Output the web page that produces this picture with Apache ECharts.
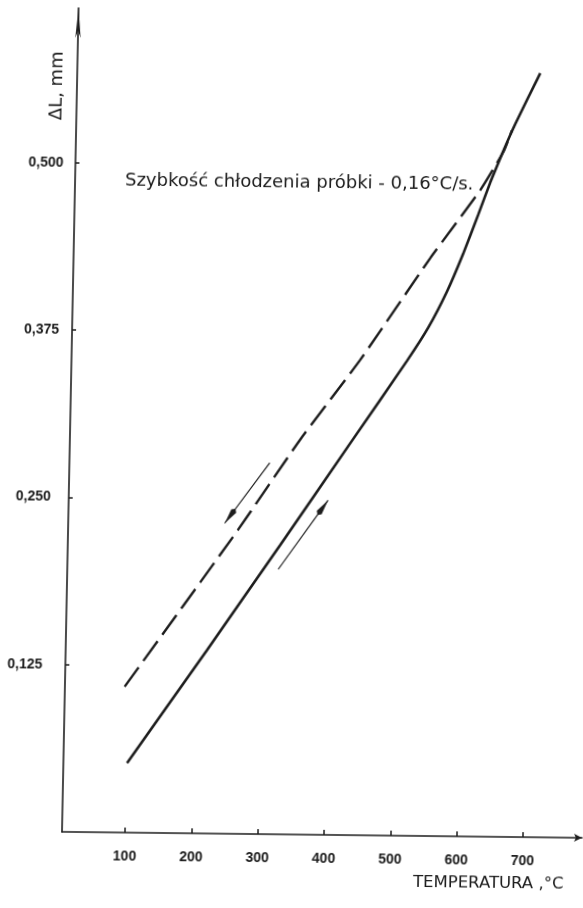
<!DOCTYPE html>
<html>
<head>
<meta charset="utf-8">
<script src="https://cdn.jsdelivr.net/npm/echarts/dist/echarts.min.js"></script>
<style>
  html, body { margin: 0; padding: 0; background: #ffffff; overflow: hidden; }
  /* the plotting frame sits a little askew on the sheet */
  #chart {
    width: 583px; height: 908px;
    transform: matrix(1, 0.0115, -0.0201, 1, 0, 0);
    transform-origin: 62px 832px;
  }
</style>
</head>
<body>
<div id="chart"></div>
<script>
// Dilatometric curve: specimen elongation vs temperature
const heatingTemp = [101, 218, 325, 428, 511, 542, 569, 592, 614, 631, 650, 667, 703];
const heatingDL   = [0.052, 0.137, 0.216, 0.293, 0.355, 0.380, 0.407, 0.435, 0.465, 0.489, 0.513, 0.533, 0.571];

const coolingTemp = [95, 261, 352, 440, 543, 616, 650, 662];
const coolingDL   = [0.109, 0.227, 0.295, 0.355, 0.432, 0.483, 0.512, 0.528];

// direction arrows: [startTemp, startDL, tipTemp, tipDL]
const coolingArrow = [307, 0.2775, 241, 0.232];
const heatingArrow = [323, 0.198, 396, 0.250];

const xTicks = [100, 200, 300, 400, 500, 600, 700];
const yTicks = [0.125, 0.250, 0.375, 0.500];

const ink = '#1d1d1d';
const pair = (xs, ys) => xs.map((x, i) => [x, ys[i]]);

const chart = echarts.init(document.getElementById('chart'), null, { renderer: 'canvas' });

function renderArrow(params, api) {
  const p1 = api.coord([api.value(0), api.value(1)]);
  const p2 = api.coord([api.value(2), api.value(3)]);
  const dx = p2[0] - p1[0], dy = p2[1] - p1[1];
  const len = Math.sqrt(dx * dx + dy * dy);
  const ux = dx / len, uy = dy / len;
  const headLen = 15, half = 3;
  const bx = p2[0] - ux * headLen, by = p2[1] - uy * headLen;
  return {
    type: 'group',
    children: [
      { type: 'line', shape: { x1: p1[0], y1: p1[1], x2: p2[0], y2: p2[1] },
        style: { stroke: ink, lineWidth: 1.2 } },
      { type: 'polygon',
        shape: { points: [
          [p2[0], p2[1]],
          [bx - uy * half, by + ux * half],
          [bx - ux * 3, by - uy * 3],
          [bx + uy * half, by - ux * half]
        ] },
        style: { fill: ink } }
    ]
  };
}

// hand-lettered values drift leftwards further down the scale
const labelGap = { '0,500': 0, '0,375': 1, '0,250': 6, '0,125': 11 };
const labelFont = { fontFamily: 'Liberation Sans', fontWeight: 'bold', fontSize: 14, color: '#1a1a1a' };
const yRich = { v: labelFont };
Object.keys(labelGap).forEach((k, i) => {
  yRich['g' + i] = { width: labelGap[k], fontSize: 14 };
});

chart.setOption({
  backgroundColor: '#ffffff',
  animation: false,
  grid: { left: 62, right: 1, top: 8, bottom: 76, containLabel: false, outerBoundsMode: 'none' },
  xAxis: {
    type: 'value', min: 5, max: 789,
    axisLine: { show: true, lineStyle: { color: ink, width: 1.6 },
                symbol: ['none', 'arrow'], symbolSize: [6, 8] },
    axisTick: { show: true, inside: true, length: 5, customValues: xTicks,
                lineStyle: { color: ink, width: 1.5 } },
    axisLabel: Object.assign({ customValues: xTicks, margin: 17 }, labelFont),
    splitLine: { show: false }
  },
  yAxis: {
    type: 'value', min: 0, max: 0.6157,
    axisLine: { show: true, lineStyle: { color: ink, width: 1.6 },
                symbol: ['none', 'arrow'], symbolSize: [4, 30] },
    axisTick: { show: true, inside: true, length: 4, customValues: yTicks,
                lineStyle: { color: ink, width: 1.5 } },
    axisLabel: { customValues: yTicks, margin: 12,
                 formatter: v => {
                   const s = v.toFixed(3).replace('.', ',');
                   const idx = Object.keys(labelGap).indexOf(s);
                   return labelGap[s] > 0 ? '{v|' + s + '}{g' + idx + '| }' : '{v|' + s + '}';
                 },
                 rich: yRich },
    splitLine: { show: false }
  },
  graphic: [
    { type: 'text', left: 112, top: 171,
      style: { text: 'Szybkość chłodzenia próbki - 0,16°C/s.', fill: '#1a1a1a',
               font: '18px "DejaVu Sans"' } },
    { type: 'text', left: 414, top: 870,
      style: { text: 'TEMPERATURA ,°C', fill: '#1a1a1a', font: '16.5px "DejaVu Sans"' } },
    { type: 'text', x: 42, y: 86, rotation: Math.PI / 2,
      style: { text: 'ΔL, mm', fill: '#1a1a1a', font: '18px "DejaVu Sans"',
               align: 'center', verticalAlign: 'middle' } }
  ],
  series: [
    { name: 'nagrzewanie', type: 'line', data: pair(heatingTemp, heatingDL),
      showSymbol: false, smooth: 0.15,
      lineStyle: { color: ink, width: 2.6 } },
    { name: 'chłodzenie', type: 'line', data: pair(coolingTemp, coolingDL),
      showSymbol: false, smooth: 0.15,
      lineStyle: { color: ink, width: 2.4, type: [24, 8] } },
    { type: 'custom', renderItem: renderArrow,
      data: [coolingArrow, heatingArrow], silent: true }
  ]
});
</script>
</body>
</html>
